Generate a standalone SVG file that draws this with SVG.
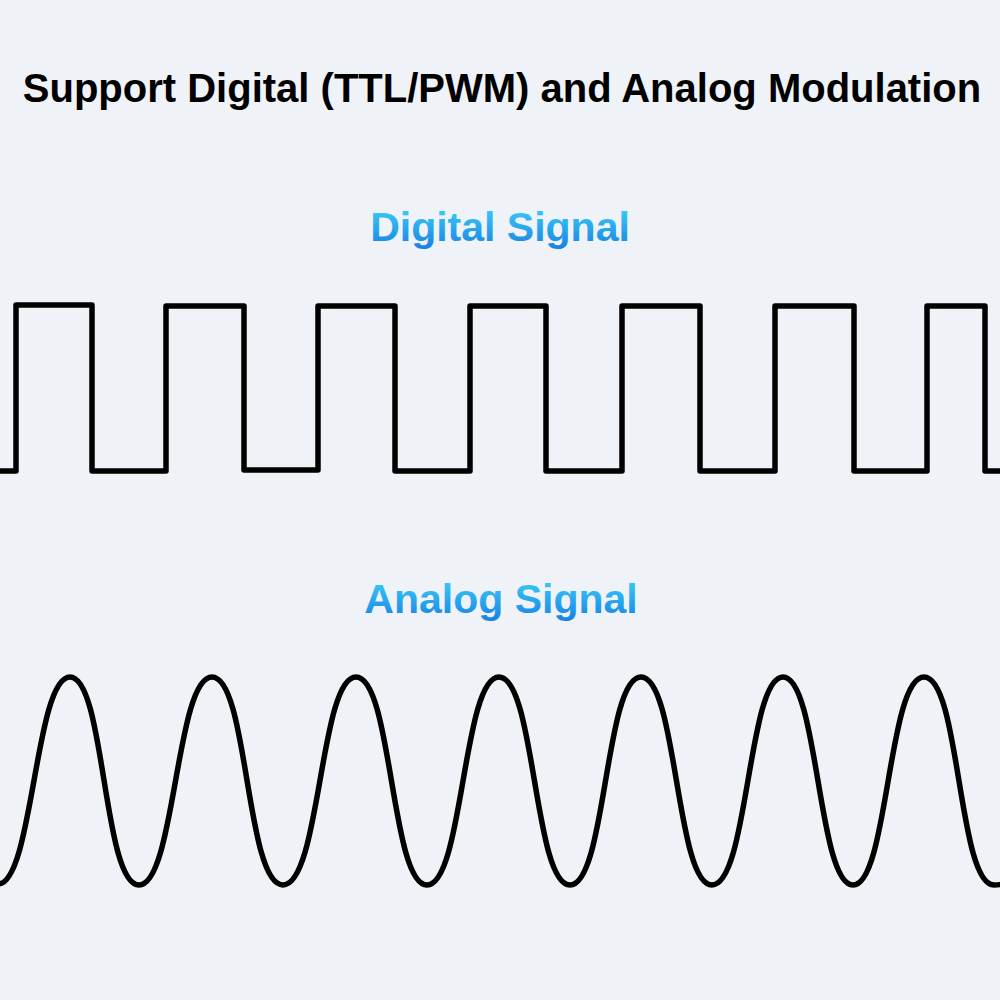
<svg xmlns="http://www.w3.org/2000/svg" width="1000" height="1000" viewBox="0 0 1000 1000">
<defs>
<linearGradient id="blue" x1="0" y1="0" x2="0" y2="1">
<stop offset="0" stop-color="#3ed2fa"/>
<stop offset="1" stop-color="#1780e2"/>
</linearGradient>
<style>
.title{font-family:"Liberation Sans",Arial,sans-serif;font-weight:bold;font-size:40px;fill:#000;text-anchor:middle}
.label{font-family:"Liberation Sans",Arial,sans-serif;font-weight:bold;font-size:41px;fill:url(#blue);text-anchor:middle}
.wave{fill:none;stroke:#000;stroke-width:5.5;stroke-linejoin:round;stroke-linecap:round}
</style>
</defs>
<rect width="1000" height="1000" fill="#eff2f6"/>
<g id="title"><text class="title" x="502" y="102">Support Digital (TTL/PWM) and Analog Modulation</text></g>
<g id="digital-label"><text class="label" x="500" y="241">Digital Signal</text></g>
<g id="analog-label"><text class="label" x="501" y="613">Analog Signal</text></g>
<g id="digital-wave"><path class="wave" d="M-5 471 H16 V305 H92 V471 H166 V306 H244 V470 H318 V306 H395 V471 H470 V306 H546 V471 H622 V306 H700 V471 H775 V306 H854 V471 H927 V306 H985 V471 H1005"/></g>
<g id="analog-wave"><path class="wave" d="M-2 884 C33 884 35 677 70 677 C105 677 103 885 139 885 C175 885 176 677 212 677 C248 677 246 885 283 885 C320 885 320 677 356 677 C392 677 391 885 427 885 C463 885 463 677 499 677 C535 677 534 885 570 885 C606 885 605 677 641 677 C677 677 676 885 712 885 C748 885 748 677 783 677 C818 677 818 885 853 885 C888 885 888 677 924 677 C960 677 958 885 994 885 C1005 885 1010 880 1012 875"/></g>
</svg>
